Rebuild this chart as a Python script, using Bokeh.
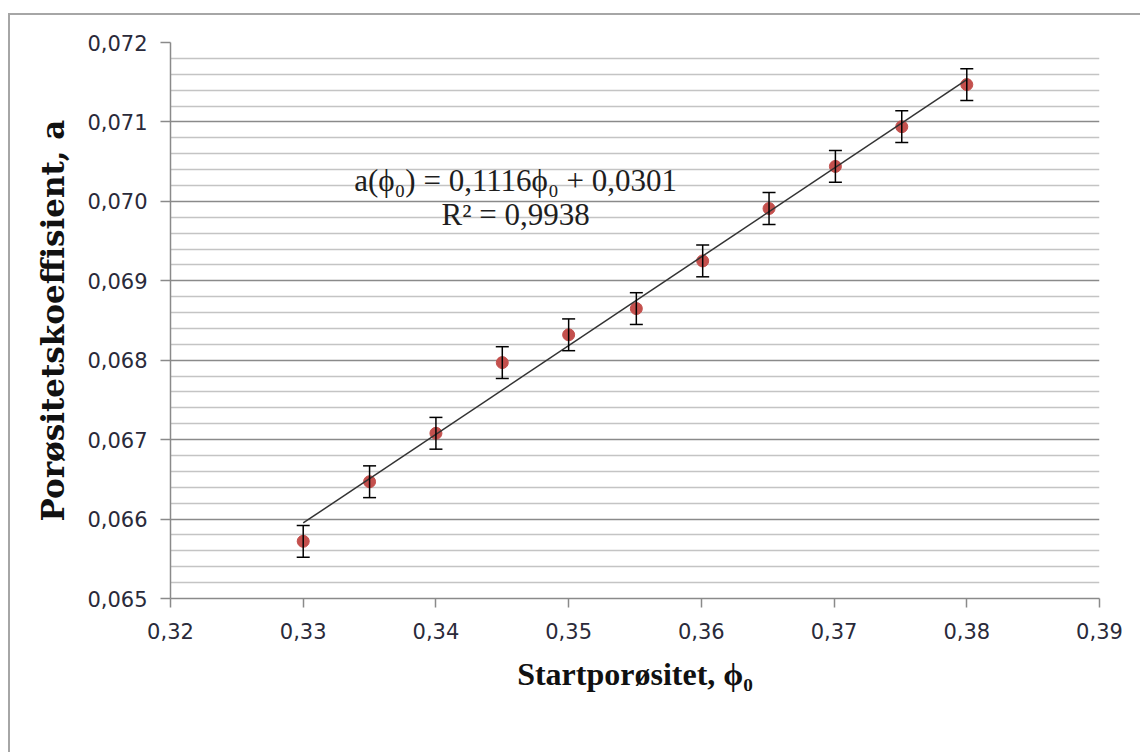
import numpy as np
from bokeh.plotting import figure
from bokeh.layouts import column
from bokeh.models import (ColumnDataSource, Whisker, TeeHead, Label, FixedTicker, Range1d)
from bokeh.embed import file_html
from bokeh.resources import INLINE

# ---- data ----
phi0 = [0.330, 0.335, 0.340, 0.345, 0.350, 0.3551, 0.3601, 0.3651, 0.3701, 0.3751, 0.380]
a_val = [0.06572, 0.06647, 0.06708, 0.06797, 0.06832, 0.06865, 0.06925, 0.06991, 0.07044, 0.07094, 0.07147]
a_err = [0.0002, 0.0002, 0.0002, 0.0002, 0.0002, 0.0002, 0.0002, 0.0002, 0.0002, 0.0002, 0.0002]

x_ticks = [0.32, 0.33, 0.34, 0.35, 0.36, 0.37, 0.38, 0.39]
x_tick_labels = ["0,32", "0,33", "0,34", "0,35", "0,36", "0,37", "0,38", "0,39"]
y_ticks = [0.065, 0.066, 0.067, 0.068, 0.069, 0.070, 0.071, 0.072]
y_tick_labels = ["0,065", "0,066", "0,067", "0,068", "0,069", "0,070", "0,071", "0,072"]

eq_text = "a(ϕ₀) = 0,1116ϕ₀ + 0,0301"
r2_text = "R² = 0,9938"
x_label = "Startporøsitet, ϕ₀"
y_label = "Porøsitetskoeffisient, a"

# ---- figure ----
p = figure(width=1130, height=737, output_backend="svg", toolbar_location=None,
           x_range=Range1d(x_ticks[0], x_ticks[-1]), y_range=Range1d(y_ticks[0], y_ticks[-1]),
           min_border_left=160, min_border_right=41, min_border_top=27, min_border_bottom=154)
p.background_fill_color = "white"
p.border_fill_color = "white"
p.outline_line_color = None

# ticks / grid
minor = []
for i in range(len(y_ticks) - 1):
    step = (y_ticks[i + 1] - y_ticks[i]) / 5
    minor += [y_ticks[i] + step * k for k in range(1, 5)]
p.yaxis.ticker = FixedTicker(ticks=y_ticks, minor_ticks=minor)
p.xaxis.ticker = FixedTicker(ticks=x_ticks)
p.yaxis.major_label_overrides = dict(zip(y_ticks, y_tick_labels))
p.xaxis.major_label_overrides = dict(zip(x_ticks, x_tick_labels))

p.xgrid.grid_line_color = None
p.ygrid.grid_line_color = "#8a8a8a"
p.ygrid.grid_line_width = 1.5
p.ygrid.minor_grid_line_color = "#c4c4c4"
p.ygrid.minor_grid_line_width = 1.5

for ax in (p.xaxis, p.yaxis):
    ax.axis_line_color = "#8a8a8a"
    ax.axis_line_width = 1.5
    ax.major_tick_line_color = "#8a8a8a"
    ax.major_tick_line_width = 1.5
    ax.major_tick_in = 0
    ax.minor_tick_in = 0
    ax.minor_tick_out = 0
    ax.major_label_text_font = "DejaVu Sans"
    ax.major_label_text_font_size = "21px"
    ax.major_label_text_color = "#2a2a3a"
    ax.axis_label_text_font_style = "bold"
    ax.axis_label_text_color = "#111111"

p.yaxis.major_tick_out = 10
p.xaxis.major_tick_out = 9
p.yaxis.major_label_standoff = 13
p.xaxis.major_label_standoff = 15

p.xaxis.axis_label = x_label
p.xaxis.axis_label_text_font = "Liberation Serif"
p.xaxis.axis_label_text_font_size = "32px"
p.xaxis.axis_label_standoff = 14

p.yaxis.axis_label = y_label
p.yaxis.axis_label_text_font = "DejaVu Serif"
p.yaxis.axis_label_text_font_size = "31px"
p.yaxis.axis_label_standoff = 13

# ---- data ----
src = ColumnDataSource(dict(x=phi0, y=a_val,
                            lower=[v - e for v, e in zip(a_val, a_err)],
                            upper=[v + e for v, e in zip(a_val, a_err)]))
w = Whisker(base="x", lower="lower", upper="upper", source=src,
            line_color="black", line_width=1.5, level="glyph")
w.upper_head = TeeHead(size=13, line_color="black", line_width=1.5)
w.lower_head = TeeHead(size=13, line_color="black", line_width=1.5)
p.add_layout(w)

p.scatter("x", "y", source=src, size=12, fill_color="#c4504d", line_color="#c4504d")

# linear trendline (least squares fit of the data)
k, b = np.polyfit(phi0, a_val, 1)
xf = [min(phi0), max(phi0)]
p.line(xf, [k * xx + b for xx in xf], line_color="#333333", line_width=1.5)

# equation labels
p.add_layout(Label(x=0.346, y=0.07026, text=eq_text, text_align="center", text_baseline="middle",
                   text_font="Liberation Serif", text_font_size="31px", text_color="#1e1e1e"))
p.add_layout(Label(x=0.346, y=0.06983, text=r2_text, text_align="center", text_baseline="middle",
                   text_font="Liberation Serif", text_font_size="31px", text_color="#1e1e1e"))

layout = column(p, styles={"border-left": "2px solid #a6a6a6", "border-top": "2px solid #a6a6a6",
                           "margin-left": "8px", "margin-top": "13px"})

open("out.html", "w").write(file_html(layout, INLINE))
